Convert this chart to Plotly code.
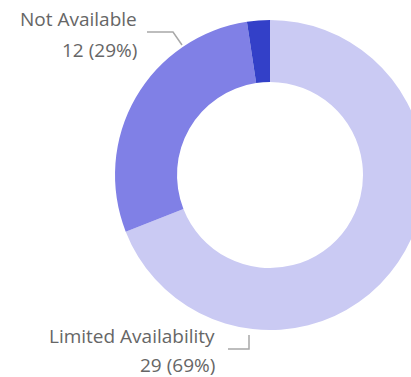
import plotly.graph_objects as go

# Availability breakdown (clockwise from 12 o'clock)
categories = ["Limited Availability", "Not Available", "Available"]
counts = [29, 12, 1]
colors = ["#CACAF3", "#8080E6", "#3340C8"]

# Canvas geometry (pixels); the ring runs past the right edge and is cropped
W, H = 430, 377
VIEW_W = 411
cx, cy, r_out, r_in = 270, 175, 155, 93

def px(x):
    return x / W

def py(y):
    return 1 - y / H

total = sum(counts)
pcts = [round(100 * c / total) for c in counts]

fig = go.Figure(
    go.Pie(
        labels=categories,
        values=counts,
        sort=False,
        direction="clockwise",
        rotation=0,
        hole=r_in / r_out,
        marker=dict(colors=colors, line=dict(width=0)),
        textinfo="none",
        hoverinfo="label+value+percent",
        domain=dict(
            x=[px(cx - r_out), px(cx + r_out)],
            y=[py(cy + r_out), py(cy - r_out)],
        ),
        showlegend=False,
    )
)

# Outside data labels: (category index, right edge x, name line y, value line y, leader path)
label_spec = [
    (1, 139, 19, 50, [(147, 32), (173, 32), (182, 45)]),
    (0, 217, 336, 365, [(228, 349), (249, 349), (249, 335)]),
]

font = dict(family="Open Sans", size=19, color="#666666")
annotations = []
shapes = []
for i, xr, y1, y2, path in label_spec:
    annotations.append(dict(
        text=categories[i], x=px(xr), y=py(y1), xref="paper", yref="paper",
        xanchor="right", yanchor="middle", showarrow=False, font=font,
    ))
    annotations.append(dict(
        text=f"{counts[i]} ({pcts[i]}%)", x=px(xr), y=py(y2), xref="paper", yref="paper",
        xanchor="right", yanchor="middle", showarrow=False, font=font,
    ))
    d = "M " + " L ".join(f"{px(x):.5f},{py(y):.5f}" for x, y in path)
    shapes.append(dict(type="path", path=d, xref="paper", yref="paper",
                       line=dict(color="#A8A8A8", width=1.5)))

fig.update_layout(
    width=W,
    height=H,
    margin=dict(l=0, r=0, t=0, b=0),
    paper_bgcolor="white",
    plot_bgcolor="white",
    annotations=annotations,
    shapes=shapes,
)

fig.write_html(
    "out.html",
    post_script=(
        "document.documentElement.style.overflow='hidden';"
        "document.body.style.overflow='hidden';"
        "document.body.style.margin='0';"
    ),
)
